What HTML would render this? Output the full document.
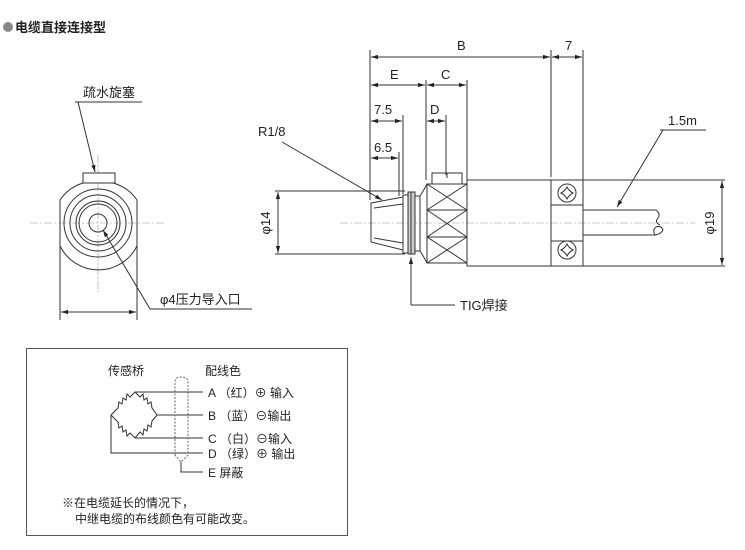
<!DOCTYPE html>
<html><head><meta charset="utf-8"><style>
html,body{margin:0;padding:0;background:#fff;}
svg{display:block;font-family:"Liberation Sans","Noto Sans CJK SC",sans-serif;}
</style></head><body>
<svg width="745" height="550" viewBox="0 0 745 550" xmlns="http://www.w3.org/2000/svg">
<defs>
<marker id="a" viewBox="0 0 10 10" refX="10" refY="5" markerWidth="7" markerHeight="7" orient="auto-start-reverse"><path d="M0,2 L10,5 L0,8 z" fill="#222"/></marker>
</defs>
<circle cx="8" cy="27" r="5" fill="#888"/>
<text x="15" y="32" font-size="13" font-weight="bold" fill="#222">电缆直接连接型</text>

<!-- LEFT VIEW -->
<g stroke="#333" fill="none" stroke-width="1">
<line x1="30" y1="223" x2="165" y2="223" stroke="#999" stroke-width="0.6" stroke-dasharray="8,2,2,2"/>
<line x1="98" y1="155" x2="98" y2="292" stroke="#999" stroke-width="0.6" stroke-dasharray="8,2,2,2"/>
<path d="M83,183 A43,43 0 0 0 60,200 M60,246 A43,43 0 0 0 137,246 M137,200 A43,43 0 0 0 113,183" />
<line x1="60" y1="200" x2="60" y2="246"/><line x1="137" y1="200" x2="137" y2="246"/>
<rect x="83" y="173" width="32" height="10" fill="#fff"/>
<circle cx="98" cy="223" r="34"/>
<circle cx="98" cy="223" r="28"/>
<circle cx="98" cy="223" r="22"/>
<circle cx="98" cy="223" r="19"/>
<circle cx="98" cy="223" r="9"/>
<line x1="60" y1="240" x2="60" y2="320"/><line x1="137" y1="240" x2="137" y2="320"/>
<line x1="61" y1="312" x2="136" y2="312" marker-start="url(#a)" marker-end="url(#a)"/>
<line x1="75" y1="102" x2="142" y2="102"/>
<line x1="78" y1="102" x2="95" y2="172" marker-end="url(#a)"/>
<line x1="150" y1="309" x2="252" y2="309"/>
<line x1="150" y1="309" x2="103" y2="230" marker-end="url(#a)"/>
</g>
<text x="83" y="97" font-size="13" fill="#222">疏水旋塞</text>
<text x="160" y="304" font-size="13" fill="#222">φ4压力导入口</text>

<!-- RIGHT VIEW -->
<g stroke="#333" fill="none" stroke-width="1">
<line x1="340" y1="223" x2="695" y2="223" stroke="#999" stroke-width="0.6" stroke-dasharray="8,2,2,2"/>
<polygon points="371,203 403,197 403,250 371,242"/>
<line x1="374" y1="208" x2="403" y2="204"/><line x1="374" y1="238" x2="403" y2="243"/>
<rect x="403" y="195" width="5" height="58"/>
<rect x="408" y="192" width="7" height="62" fill="#ccc"/>
<line x1="411" y1="192" x2="411" y2="254"/>
<rect x="415" y="196" width="5" height="55"/>
<path d="M420,196 Q424,190 427,184 M420,251 Q424,257 427,263"/>
<rect x="427" y="184" width="40" height="79"/>
<line x1="427" y1="210" x2="467" y2="210"/><line x1="427" y1="237" x2="467" y2="237"/>
<path d="M427,184 L467,210 M467,184 L427,210 M427,210 L467,237 M467,210 L427,237 M427,237 L467,263 M467,237 L427,263"/>
<rect x="432" y="173" width="30" height="11"/>
<line x1="447" y1="173" x2="447" y2="178"/>
<rect x="467" y="180" width="84" height="86"/>
<rect x="551" y="180" width="32" height="86"/>
<line x1="551" y1="205" x2="583" y2="205"/><line x1="551" y1="241" x2="583" y2="241"/>
<circle cx="567" cy="193" r="9"/><circle cx="567" cy="250" r="9"/>
<path d="M567,187 Q569,191 573,193 Q569,195 567,199 Q565,195 561,193 Q565,191 567,187z"/>
<path d="M567,244 Q569,248 573,250 Q569,252 567,256 Q565,252 561,250 Q565,248 567,244z"/>
<path d="M583,210 L656,210 Q661,214 658,218 M583,235 L655,235 Q652,230 656,227 Q661,225 663,230 Q661,234 655,235 M658,218 Q654,222 660,225"/>
<line x1="583" y1="180" x2="725" y2="180"/><line x1="583" y1="266" x2="725" y2="266"/>
<line x1="722" y1="181" x2="722" y2="265" marker-start="url(#a)" marker-end="url(#a)"/>
<line x1="275" y1="191" x2="405" y2="191"/><line x1="275" y1="254" x2="405" y2="254"/>
<line x1="278" y1="192" x2="278" y2="253" marker-start="url(#a)" marker-end="url(#a)"/>
<line x1="370" y1="50" x2="370" y2="200"/>
<line x1="551" y1="50" x2="551" y2="177"/>
<line x1="583" y1="50" x2="583" y2="180"/>
<line x1="426" y1="80" x2="426" y2="180"/>
<line x1="467" y1="80" x2="467" y2="180"/>
<line x1="403" y1="115" x2="403" y2="194"/>
<line x1="399" y1="152" x2="399" y2="196"/>
<line x1="446" y1="115" x2="446" y2="175"/>
<line x1="371" y1="57" x2="550" y2="57" marker-start="url(#a)" marker-end="url(#a)"/>
<line x1="552" y1="57" x2="582" y2="57" marker-start="url(#a)" marker-end="url(#a)"/>
<line x1="371" y1="85" x2="425" y2="85" marker-start="url(#a)" marker-end="url(#a)"/>
<line x1="427" y1="85" x2="466" y2="85" marker-start="url(#a)" marker-end="url(#a)"/>
<line x1="371" y1="121" x2="402" y2="121" marker-start="url(#a)" marker-end="url(#a)"/>
<line x1="427" y1="121" x2="445" y2="121" marker-start="url(#a)" marker-end="url(#a)"/>
<line x1="371" y1="158" x2="398" y2="158" marker-start="url(#a)" marker-end="url(#a)"/>
<line x1="282" y1="142" x2="382" y2="200" marker-end="url(#a)"/>
<line x1="660" y1="130" x2="706" y2="130"/>
<line x1="663" y1="130" x2="617" y2="207" marker-end="url(#a)"/>
<line x1="411" y1="305" x2="411" y2="257" marker-end="url(#a)"/>
<line x1="411" y1="305" x2="455" y2="305"/>
</g>
<g font-size="13" fill="#222">
<text x="457" y="50">B</text>
<text x="565" y="50">7</text>
<text x="390" y="79">E</text>
<text x="441" y="79">C</text>
<text x="374" y="114">7.5</text>
<text x="430" y="114">D</text>
<text x="374" y="152">6.5</text>
<text x="258" y="136">R1/8</text>
<text x="668" y="125">1.5m</text>
<text x="460" y="310">TIG焊接</text>
<text transform="translate(270,223) rotate(-90)" text-anchor="middle">φ14</text>
<text transform="translate(714,223) rotate(-90)" text-anchor="middle">φ19</text>
</g>

<!-- WIRING BOX -->
<rect x="26.5" y="348.5" width="321" height="187" fill="none" stroke="#555" stroke-width="1"/>
<g stroke="#333" fill="none" stroke-width="1">
<path d="M135,392 L140,397 L143,394 L144,400 L147,398 L148,404 L151,402 L152,408 L157,415"/>
<path d="M157,415 L152,421 L151,427 L148,425 L147,431 L144,429 L143,435 L140,432 L135,438"/>
<path d="M135,438 L130,433 L127,436 L126,430 L123,432 L122,426 L119,428 L118,422 L111,415"/>
<path d="M111,415 L118,408 L119,402 L122,404 L123,398 L126,400 L127,394 L130,397 L135,392"/>
<line x1="135" y1="392" x2="203" y2="392"/>
<line x1="157" y1="415" x2="203" y2="415"/>
<line x1="135" y1="438" x2="203" y2="438"/>
<path d="M111,415 L111,453 L203,453"/>
<path d="M175,455 L175,382 Q175,377 181,377 Q188,377 188,382 L188,455 L181,462 Z" stroke-dasharray="2,1.5" stroke="#666"/>
<path d="M181,462 L181,472 L203,472"/>
</g>
<g font-size="12" fill="#222">
<text x="108" y="375">传感桥</text>
<text x="205" y="375">配线色</text>
<text x="208" y="397">A （红）⊕ 输入</text>
<text x="208" y="420">B （蓝）⊖输出</text>
<text x="208" y="443">C （白）⊖输入</text>
<text x="208" y="458">D （绿）⊕ 输出</text>
<text x="208" y="477">E 屏蔽</text>
<text x="62" y="507">※在电缆延长的情况下，</text>
<text x="75" y="523">中继电缆的布线颜色有可能改变。</text>
</g>
</svg>
</body></html>
